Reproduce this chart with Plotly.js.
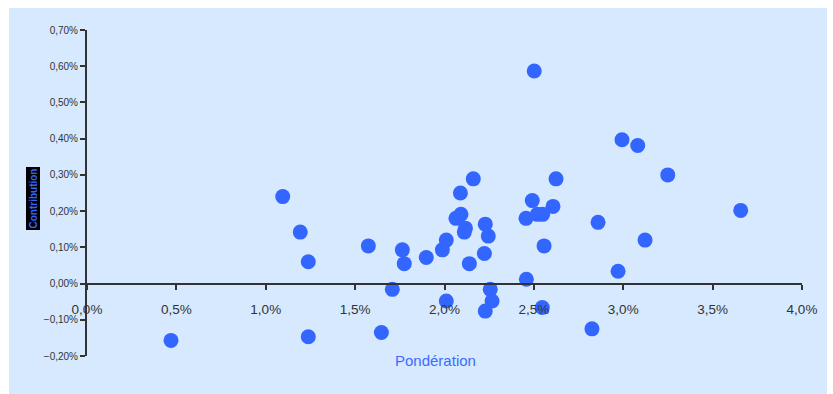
<!DOCTYPE html>
<html>
<head>
<meta charset="utf-8">
<script src="https://cdn.plot.ly/plotly-3.0.1.min.js"></script>
<style>
html,body{margin:0;padding:0;background:#ffffff;}
#bg{position:absolute;left:9px;top:8px;width:818px;height:386px;background:#D6E9FF;}
#chart{position:absolute;left:0;top:0;width:833px;height:394px;}
</style>
</head>
<body>
<div id="bg"></div>
<div id="chart"></div>
<script>
// Pondération (%) and Contribution (%)
const ponderation = [1.095, 1.193, 1.238, 1.574, 1.764, 1.775, 1.898, 1.708, 0.470, 1.238, 1.647,
  2.502, 2.993, 3.081, 3.249, 2.161, 2.624, 2.089, 2.491, 2.607, 3.657, 2.092, 2.064,
  2.519, 2.549, 2.456, 2.859, 2.228, 2.117, 2.111, 2.245, 3.122, 2.010, 1.988, 2.557,
  2.223, 2.139, 2.971, 2.458, 2.256, 2.266, 2.010, 2.228, 2.547, 2.825];
const contribution = [0.240, 0.142, 0.060, 0.104, 0.093, 0.055, 0.072, -0.016, -0.157, -0.147, -0.135,
  0.587, 0.397, 0.381, 0.300, 0.289, 0.289, 0.250, 0.229, 0.213, 0.202, 0.191, 0.180,
  0.191, 0.191, 0.180, 0.169, 0.164, 0.153, 0.142, 0.131, 0.120, 0.120, 0.093, 0.104,
  0.083, 0.055, 0.034, 0.012, -0.016, -0.048, -0.048, -0.076, -0.066, -0.125];
const xTitle = "Pondération";
const yTitle = "Contribution";

const trace = {
  x: ponderation, y: contribution, type: 'scatter', mode: 'markers',
  marker: {color: '#3366FF', size: 15, line: {width: 0}},
  hoverinfo: 'x+y'
};

const layout = {
  width: 833, height: 394,
  margin: {l: 87, r: 31, t: 30, b: 38},
  paper_bgcolor: 'rgba(0,0,0,0)', plot_bgcolor: 'rgba(0,0,0,0)',
  separators: ',.',
  showlegend: false,
  font: {family: 'Liberation Sans, Arial, sans-serif', color: '#333333'},
  xaxis: {
    range: [0, 4], dtick: 0.5, tick0: 0, tickformat: '.1f', ticksuffix: '%',
    anchor: 'free', position: 0.2/0.9,
    showline: true, linecolor: '#333333', linewidth: 2,
    ticks: 'outside', ticklen: 5, tickwidth: 2, tickcolor: '#333333',
    ticklabelstandoff: 8,
    showgrid: false, zeroline: false,
    tickfont: {size: 13.5, color: '#333333'}
  },
  yaxis: {
    range: [-0.2, 0.7], dtick: 0.1, tick0: 0, tickformat: '.2f', ticksuffix: '%',
    showline: true, linecolor: '#333333', linewidth: 2,
    ticks: 'outside', ticklen: 5, tickwidth: 2, tickcolor: '#333333',
    showgrid: false, zeroline: false,
    tickfont: {size: 10, color: '#333333'}
  },
  annotations: [
    {text: xTitle, xref: 'paper', yref: 'paper', x: (435-87)/715, y: (394-38-361)/326,
     xanchor: 'center', yanchor: 'middle', showarrow: false,
     font: {size: 15, color: '#3D6BFF'}},
    {text: '<b>' + yTitle + '</b>', xref: 'paper', yref: 'paper', x: (33-87)/715, y: (356-198.5)/326,
     xanchor: 'center', yanchor: 'middle', showarrow: false, textangle: -90,
     bgcolor: '#000000', borderpad: 1,
     font: {size: 10, color: '#3366FF'}}
  ]
};

Plotly.newPlot('chart', [trace], layout, {displayModeBar: false, staticPlot: true});
</script>
</body>
</html>
